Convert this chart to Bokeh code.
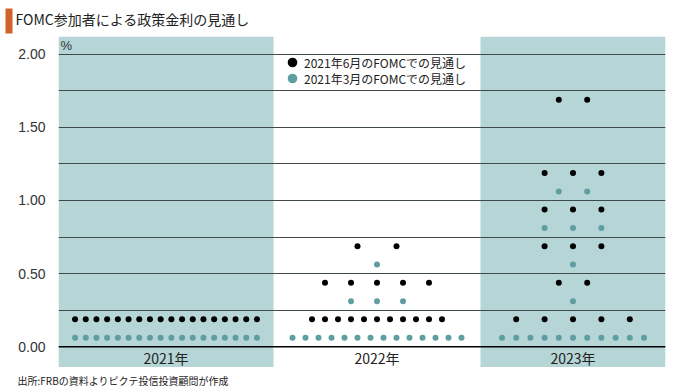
from bokeh.plotting import figure
from bokeh.layouts import column
from bokeh.models import (Range1d, FixedTicker, BoxAnnotation, Label, Legend, LegendItem,
                          Span, ColumnDataSource, NumeralTickFormatter)
from bokeh.transform import dodge
from bokeh.embed import file_html
from bokeh.resources import INLINE

# ---------------- data ----------------
years = ["2021年", "2022年", "2023年"]
rates = [0.125, 0.375, 0.625, 0.875, 1.125, 1.375, 1.625]   # dot-plot rate midpoints (%)
june_2021 = [18, 0, 0, 0, 0, 0, 0]
june_2022 = [11, 5, 2, 0, 0, 0, 0]
june_2023 = [5, 2, 3, 3, 3, 0, 2]
march_2021 = [18, 0, 0, 0, 0, 0, 0]
march_2022 = [14, 3, 1, 0, 0, 0, 0]
march_2023 = [11, 1, 1, 3, 2, 0, 0]
y_ticks = [0.0, 0.5, 1.0, 1.5, 2.0]
series_labels = ["2021年6月のFOMCでの見通し", "2021年3月のFOMCでの見通し"]
title_text = "FOMC参加者による政策金利の見通し"
unit_text = "%"
source_text = "出所:FRBの資料よりピクテ投信投資顧問が作成"

# ---------------- layout / style ----------------
W = 672
band_edges = [0, 215, 422, 607]          # horizontal layout of the year columns (frame px)
dot_step = [10.7, 13.0, 14.2]            # dot spacing per column
pair_mult = [2, 3, 2]                    # spacing multiplier for 2-dot rows
minor_grid = [0.25, 0.75, 1.25, 1.75]
BAND = "#B5D5D6"
TEAL = "#5F9EA0"
JP = "Noto Sans CJK JP"

june = [june_2021, june_2022, june_2023]
march = [march_2021, march_2022, march_2023]


def row_xs(center, n, step, pm):
    if n >= 8:
        s = step
    elif n == 2:
        s = step * pm
    else:
        s = step * 2
    return [center + (k - (n - 1) / 2) * s for k in range(n)]


def build(counts_by_year):
    xs, ys = [], []
    for i, counts in enumerate(counts_by_year):
        c = (band_edges[i] + band_edges[i + 1]) / 2
        for r, n in zip(rates, counts):
            for x in row_xs(c, n, dot_step[i], pair_mult[i]):
                xs.append(x)
                ys.append(r)
    return ColumnDataSource(dict(x=xs, rate=ys))


def blank(h):
    f = figure(width=W, height=h, x_range=Range1d(0, W), y_range=Range1d(0, h),
               x_axis_type=None, y_axis_type=None, output_backend="svg",
               toolbar_location=None, min_border=0, outline_line_color=None,
               frame_align=False)
    f.grid.visible = False
    return f


# ---------------- header ----------------
head = blank(36)
head.add_layout(BoxAnnotation(left=5, right=12, bottom=3, top=28,
                              fill_color="#D0622A", fill_alpha=1, line_color=None))
head.add_layout(Label(x=15, y=18, text=title_text, text_baseline="middle",
                      text_font=JP, text_font_size="14px", text_color="#222222"))

# ---------------- main chart ----------------
p = figure(width=W, height=331, x_range=Range1d(band_edges[0], band_edges[-1]),
           y_range=Range1d(-0.141, 2.12), x_axis_type=None,
           output_backend="svg", toolbar_location=None,
           min_border_left=58, min_border_right=W - 58 - 607, min_border_top=0,
           min_border_bottom=0, outline_line_color=None, background_fill_color="white",
           frame_align=False)

for i in (0, 2):
    p.add_layout(BoxAnnotation(left=band_edges[i], right=band_edges[i + 1],
                               fill_color=BAND, fill_alpha=1, line_color=None, level="image"))

yax = p.yaxis[0]
yax.ticker = FixedTicker(ticks=y_ticks, minor_ticks=minor_grid)
yax.formatter = NumeralTickFormatter(format="0.00")
yax.axis_line_color = None
yax.major_tick_line_color = None
yax.minor_tick_line_color = None
yax.major_tick_out = 0
yax.minor_tick_out = 0
yax.major_label_standoff = 13
yax.major_label_text_font = "Liberation Sans"
yax.major_label_text_font_size = "14px"
yax.major_label_text_color = "#333333"

g = p.ygrid[0]
g.ticker = FixedTicker(ticks=y_ticks, minor_ticks=minor_grid)
g.grid_line_color = "#3f4a4b"
g.grid_line_width = 1
g.minor_grid_line_color = "#3f4a4b"
g.minor_grid_line_width = 1
g.level = "underlay"

p.add_layout(Span(location=0, dimension="width", line_color="black", line_width=1.5))

src_j = build(june)
src_m = build(march)
r_j = p.scatter(x="x", y=dodge("rate", 0.063), source=src_j, size=6,
                fill_color="black", line_color=None)
r_m = p.scatter(x="x", y=dodge("rate", -0.063), source=src_m, size=6,
                fill_color=TEAL, line_color=None)

leg_style = dict(orientation="vertical", glyph_width=24, glyph_height=24, label_height=24,
                 padding=0, margin=0, label_standoff=-5, label_text_font=JP,
                 label_text_font_size="12px", label_text_color="#222222",
                 background_fill_alpha=0, border_line_color=None)
p.add_layout(Legend(items=[LegendItem(label=series_labels[0], renderers=[r_j])],
                    location=(222, 293), **leg_style))
p.add_layout(Legend(items=[LegendItem(label=series_labels[1], renderers=[r_m])],
                    location=(222, 277), **leg_style))

for i, yr in enumerate(years):
    c = (band_edges[i] + band_edges[i + 1]) / 2
    p.add_layout(Label(x=c, y=0, y_offset=-11, text=yr, text_align="center",
                       text_baseline="middle", text_font=JP, text_font_size="14px",
                       text_color="#222222"))

p.add_layout(Label(x=2, y=322, x_units="screen", y_units="screen", text=unit_text,
                   text_baseline="middle", text_font="Liberation Sans",
                   text_font_size="13px", text_color="#333333"))

# ---------------- footer ----------------
foot = blank(24)
foot.add_layout(Label(x=17, y=11, text=source_text, text_baseline="middle",
                      text_font=JP, text_font_size="10px", text_color="#222222"))

layout = column(head, p, foot, spacing=0)
open("out.html", "w").write(file_html(layout, INLINE))
